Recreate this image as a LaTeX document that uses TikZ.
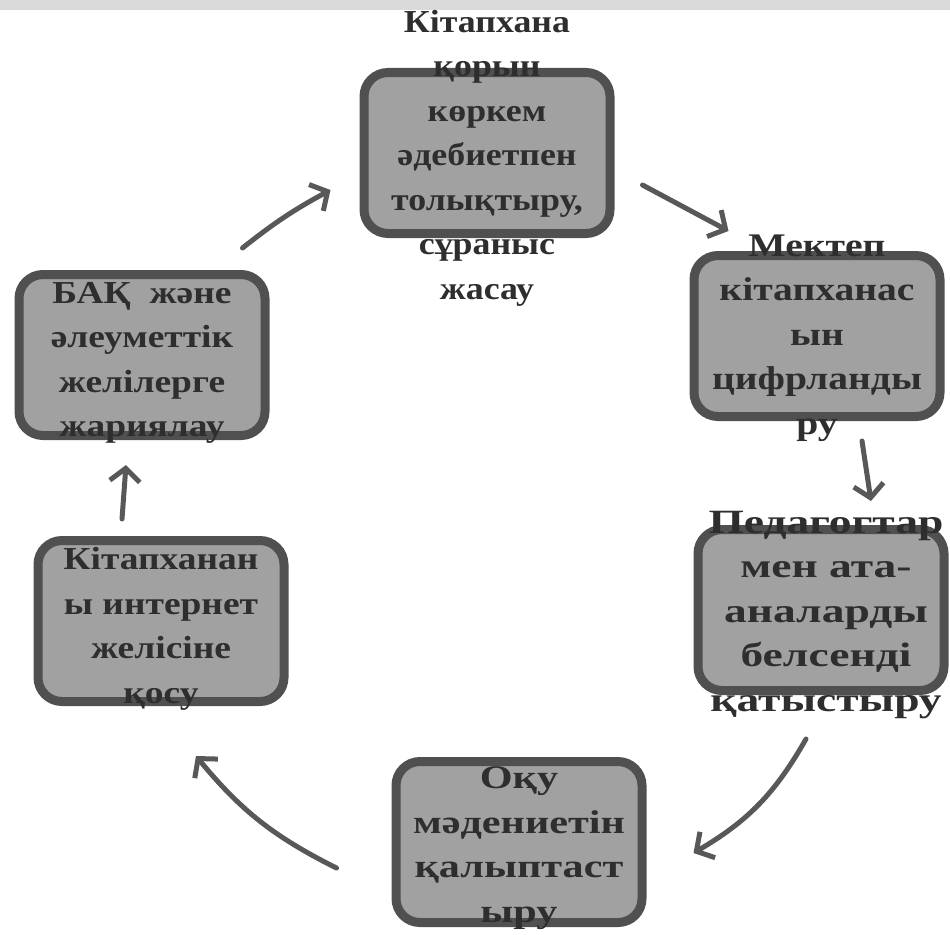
\documentclass[tikz,border=0pt]{standalone}
\usepackage{fontspec}
\setmainfont{Liberation Serif}
\usetikzlibrary{arrows.meta}
\definecolor{boxfill}{HTML}{A1A1A1}
\definecolor{boxline}{HTML}{505050}
\definecolor{txt}{HTML}{2E2E2E}
\definecolor{arr}{HTML}{585858}
\definecolor{band}{HTML}{DADADA}
\begin{document}
\begin{tikzpicture}[x=1pt,y=-1pt,
  stepbox/.style={draw=boxline, fill=boxfill, line width=9pt, rounded corners=24pt,
    minimum width=246pt, minimum height=161pt, inner sep=0pt},
  steptext/.style 2 args={align=center, text=txt, inner sep=0pt,
    font=\bfseries\fontsize{#1}{44.5}\selectfont\addfontfeatures{FakeStretch=#2}},
  cyc/.style={draw=arr, line width=5pt, line cap=round,
    -{Straight Barb[length=13pt,width=30pt,line width=5pt]}}]
\useasboundingbox (0,0) rectangle (950,934);
\fill[band] (0,0) rectangle (950,10);

\node[stepbox] (b1) at (487,153) {};
\node[stepbox] (b2) at (817,336) {};
\node[stepbox] (b3) at (821,610) {};
\node[stepbox] (b4) at (519,842) {};
\node[stepbox] (b5) at (142,355) {};
\node[stepbox] (b6) at (161,621) {};

\node[steptext={32}{1.12}] (t1) at ([shift={(0,5)}]b1.center) {Кітапхана\\қорын\\көркем\\әдебиетпен\\толықтыру,\\сұраныс\\жасау};
\node[steptext={33}{1.2}] (t2) at ([shift={(0,2)}]b2.center) {Мектеп\\кітапханас\\ын\\цифрланды\\ру};
\node[steptext={34}{1.34}] (t3) at ([shift={(5,5)}]b3.center) {Педагогтар\\мен ата-\\аналарды\\белсенді\\қатыстыру};
\node[steptext={33}{1.28}] (t4) at ([shift={(0,6)}]b4.center) {Оқу\\мәдениетін\\қалыптаст\\ыру};
\node[steptext={32}{1.17}] (t5) at ([shift={(0,8)}]b5.center) {БАҚ\ \ және\\әлеуметтік\\желілерге\\жариялау};
\node[steptext={32}{1.17}] (t6) at ([shift={(0,8)}]b6.center) {Кітапханан\\ы интернет\\желісіне\\қосу};

\draw[cyc] ([shift={(-27,-22)}]b5.north east) to[bend left=5] ([shift={(-29,37)}]b1.west);
\draw[cyc] ([shift={(28,32)}]b1.east) -- ([shift={(39,-20)}]b2.north west);
\draw[cyc] ([shift={(45,20)}]b2.south) -- ([shift={(50,-24)}]b3.north);
\draw[cyc] ([shift={(-15,44)}]b3.south) to[bend left=15] ([shift={(47,11)}]b4.east);
\draw[cyc] ([shift={(-55,26)}]b4.west) to[bend left=12] ([shift={(35,50)}]b6.south);
\draw[cyc] ([shift={(-39,-17)}]b6.north) -- ([shift={(-16,25)}]b5.south);
\end{tikzpicture}
\end{document}
